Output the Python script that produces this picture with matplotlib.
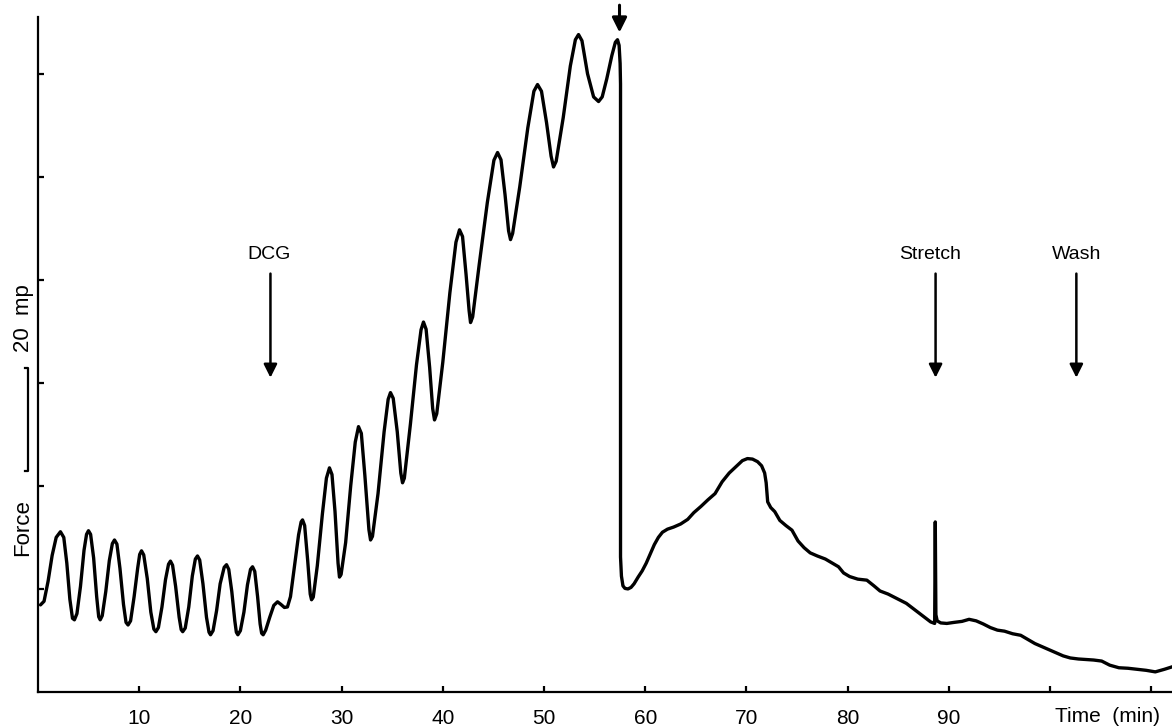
import matplotlib.pyplot as plt

plt.rcParams['font.family'] = ['Liberation Sans', 'DejaVu Sans']

# force trace (time in min, force in mp)
time_min = [
    0.25, 0.6, 1.0, 1.4, 1.8, 2.22, 2.55, 2.85, 3.15, 3.41, 3.6, 3.85,
    4.2, 4.55, 4.8, 4.99, 5.2, 5.5, 5.8, 6.0, 6.15, 6.35,
    6.7, 7.05, 7.35, 7.56, 7.8, 8.1, 8.45, 8.7, 8.9, 9.15,
    9.5, 9.85, 10.05, 10.23, 10.45, 10.8, 11.15, 11.45, 11.65, 11.9,
    12.25, 12.6, 12.9, 13.09, 13.3, 13.6, 13.95, 14.15, 14.3, 14.55,
    14.9, 15.25, 15.55, 15.76, 15.98, 16.3, 16.65, 16.9, 17.05, 17.3,
    17.65, 18.0, 18.4, 18.63, 18.85, 19.15, 19.45, 19.6, 19.75, 20.0,
    20.35, 20.7, 21.0, 21.2, 21.42, 21.7, 21.95, 22.1, 22.25, 22.5,
    22.9, 23.3, 23.67, 24.0, 24.35, 24.65,
    24.95, 25.35, 25.75, 26.0, 26.14, 26.35, 26.65, 26.9, 27.03, 27.2,
    27.6, 28.1, 28.5, 28.8, 29.05, 29.35, 29.65, 29.79, 29.95,
    30.4, 30.9, 31.35, 31.67, 31.95, 32.3, 32.7, 32.86, 33.05,
    33.6, 34.2, 34.6, 34.83, 35.1, 35.5, 35.85, 36.02, 36.2,
    36.8, 37.4, 37.85, 38.09, 38.35, 38.7, 39.0, 39.18, 39.4,
    40.0, 40.7, 41.3, 41.65, 41.95, 42.3, 42.6, 42.74, 42.95,
    43.6, 44.4, 45.05, 45.41, 45.75, 46.15, 46.5, 46.69, 46.9,
    47.6, 48.4, 49.0, 49.36, 49.75, 50.25, 50.7, 50.94, 51.2,
    51.9, 52.6, 53.1, 53.41, 53.75, 54.3, 54.9, 55.39, 55.75,
    56.2, 56.7, 57.05, 57.26, 57.42, 57.52, 57.56, 57.56,
    57.65, 57.8, 58.0, 58.3, 58.6, 58.9, 59.3, 59.7, 60.1, 60.5, 60.9,
    61.3, 61.7, 62.2, 62.8, 63.5, 64.2, 64.8, 65.5, 66.2, 66.9,
    67.6, 68.3, 69.0, 69.6, 70.1, 70.6, 71.1, 71.5, 71.8, 71.95,
    72.1, 72.4, 72.8, 73.3, 73.9, 74.5, 75.1, 75.7, 76.3, 77.0,
    77.8, 78.5, 79.1, 79.6, 80.2, 81.0, 81.9, 82.6, 83.2, 84.0,
    84.9, 85.8, 86.6, 87.4, 88.2, 88.6, 88.66, 88.72, 88.85, 89.2,
    89.8, 90.5, 91.3, 92.0, 92.7, 93.4, 94.1, 94.8, 95.5, 96.3,
    97.1, 97.8, 98.5, 99.2, 99.9, 100.6, 101.3, 102.0, 102.8, 103.5,
    104.3, 105.1, 105.9, 106.8, 107.7, 108.6, 109.5, 110.4, 111.3, 112.1,
]
force_mp = [
    16.9, 17.6, 21.5, 26.5, 30.0, 31.1, 30.0, 25.0, 18.0, 14.3, 14.0, 15.2,
    20.5, 27.5, 30.6, 31.3, 30.6, 26.0, 18.5, 14.6, 14.0, 14.8,
    19.5, 25.5, 28.8, 29.5, 28.7, 24.0, 17.0, 13.5, 13.0, 13.8,
    18.5, 24.0, 26.7, 27.4, 26.6, 22.0, 15.5, 12.2, 11.7, 12.5,
    16.5, 21.8, 24.8, 25.4, 24.6, 20.5, 14.5, 12.1, 11.7, 12.4,
    16.5, 22.5, 25.8, 26.4, 25.6, 21.0, 14.5, 11.6, 11.1, 11.9,
    15.8, 21.0, 24.2, 24.7, 23.8, 19.5, 13.8, 11.6, 11.1, 11.9,
    15.5, 20.8, 23.8, 24.3, 23.4, 18.5, 13.2, 11.4, 11.1, 12.0,
    14.5, 16.8, 17.5, 17.0, 16.4, 16.5,
    18.5, 24.5, 30.5, 33.0, 33.4, 32.3, 25.5, 19.0, 17.9, 18.4,
    24.5, 34.5, 41.5, 43.5, 42.2, 35.0, 25.0, 22.3, 22.8,
    29.0, 40.0, 48.5, 51.5, 50.2, 42.0, 31.5, 29.5, 30.2,
    38.5, 50.5, 56.8, 58.1, 57.0, 50.5, 42.5, 40.6, 41.5,
    52.0, 63.5, 70.3, 71.8, 70.4, 63.0, 55.0, 52.8, 54.0,
    64.0, 77.5, 87.3, 89.7, 88.4, 81.0, 74.0, 71.7, 72.8,
    83.0, 95.0, 103.2, 104.7, 103.3, 96.5, 89.5, 87.8, 89.0,
    98.0, 109.5, 116.6, 117.9, 116.6, 110.5, 104.0, 101.9, 103.0,
    111.5, 121.5, 126.6, 127.6, 126.4, 120.0, 115.5, 114.6, 115.5,
    119.0, 123.5, 126.1, 126.6, 125.5, 122.0, 118.0, 26.2,
    22.5, 20.6, 20.1, 20.0, 20.3, 21.0, 22.3, 23.5, 25.0, 26.8, 28.6,
    30.0, 31.0, 31.6, 32.0, 32.6, 33.5, 34.8, 36.0, 37.3, 38.5,
    40.8, 42.5, 43.8, 44.9, 45.3, 45.2, 44.7, 43.9, 42.5, 40.6,
    36.9, 35.8, 35.0, 33.3, 32.3, 31.4, 29.3, 28.0, 27.0, 26.4,
    25.8, 25.0, 24.3, 23.1, 22.4, 21.9, 21.7, 20.6, 19.6, 19.0,
    18.1, 17.2, 16.0, 14.8, 13.6, 13.3, 33.0, 15.0, 13.8, 13.4,
    13.3, 13.5, 13.7, 14.1, 13.8, 13.2, 12.5, 12.0, 11.8, 11.3,
    11.0, 10.2, 9.4, 8.8, 8.2, 7.6, 7.0, 6.6, 6.4, 6.3,
    6.2, 6.0, 5.2, 4.7, 4.6, 4.4, 4.2, 3.9, 4.4, 4.9,
]

x_ticks = [10, 20, 30, 40, 50, 60, 70, 80, 90, 100, 110]
x_labels = ['10', '20', '30', '40', '50', '60', '70', '80', '90', '', '']
y_ticks = [20, 40, 60, 80, 100, 120]

# events: name, time (min)
events = ['DCG', 'Stretch', 'Wash']
event_time = [22.97, 88.69, 102.6]
event_label_x = [22.8, 88.1, 102.6]
peak_arrow_time = 57.46

fig = plt.figure(figsize=(11.72, 7.28), dpi=100)
ax = fig.add_axes([0.0324, 0.0495, 0.9676, 0.9271])

ax.plot(time_min, force_mp, color='k', lw=2.4, solid_joinstyle='round', solid_capstyle='round', clip_on=False)

ax.set_xlim(0, 112.05)
ax.set_ylim(0, 131)

ax.spines['top'].set_visible(False)
ax.spines['right'].set_visible(False)
ax.spines['left'].set_linewidth(1.6)
ax.spines['bottom'].set_linewidth(1.6)

ax.set_xticks(x_ticks)
ax.set_xticklabels(x_labels, fontsize=15)
ax.set_yticks(y_ticks)
ax.set_yticklabels([])
ax.tick_params(axis='both', direction='in', length=4, width=1.6, pad=12)

ax.text(105.7, -0.036, 'Time  (min)', transform=ax.get_xaxis_transform(),
        ha='center', va='center', fontsize=15)

# event arrows
for name, t, tx in zip(events, event_time, event_label_x):
    ax.annotate('', xy=(t, 61.0), xytext=(t, 81.2),
                arrowprops=dict(arrowstyle='-|>', lw=1.8, color='k',
                                mutation_scale=20, shrinkA=0, shrinkB=0))
    ax.text(tx, 84.9, name, ha='center', va='center', fontsize=14)

ax.annotate('', xy=(peak_arrow_time, 128.0), xytext=(peak_arrow_time, 133.3),
            arrowprops=dict(arrowstyle='-|>', lw=2.2, color='k',
                            mutation_scale=22, shrinkA=0, shrinkB=0),
            annotation_clip=False)

# 20 mp calibration bar
ax.plot([-1.25, -0.94, -0.94, -1.25], [62.9, 62.9, 42.9, 42.9],
        color='k', lw=1.6, clip_on=False)
fig.text(23 / 1172, 0.563, '20  mp', rotation=90, ha='center', va='center', fontsize=16)
fig.text(23 / 1172, 0.275, 'Force', rotation=90, ha='center', va='center', fontsize=16)

plt.savefig('out.png', dpi=100)
